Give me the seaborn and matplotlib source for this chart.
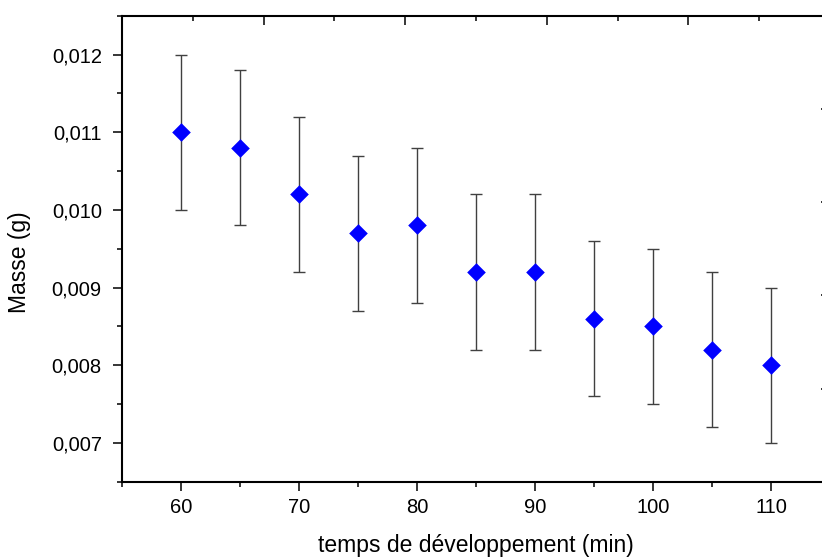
import matplotlib
matplotlib.use("Agg")
import matplotlib.pyplot as plt
import seaborn as sns
import pandas as pd
from matplotlib.ticker import MultipleLocator, FuncFormatter, NullFormatter

temps = [60, 65, 70, 75, 80, 85, 90, 95, 100, 105, 110]
masse = [0.0110, 0.0108, 0.0102, 0.0097, 0.0098, 0.0092, 0.0092, 0.0086, 0.0085, 0.0082, 0.0080]
erreur = [0.0010, 0.0010, 0.0010, 0.0010, 0.0010, 0.0010, 0.0010, 0.0010, 0.0010, 0.0010, 0.0010]

df = pd.DataFrame({"temps": temps, "masse": masse, "erreur": erreur})

sns.set_style("ticks")
plt.rcParams["font.family"] = ["Liberation Sans", "DejaVu Sans"]
plt.rcParams["axes.labelcolor"] = "black"
plt.rcParams["text.color"] = "black"

fig = plt.figure(figsize=(8.22, 5.59), dpi=100)
pos = [122 / 822, (559 - 481.7) / 559, 708 / 822, 466 / 559]
ax = fig.add_axes(pos)

ax.errorbar(df["temps"], df["masse"], yerr=df["erreur"], fmt="none",
            ecolor="#404040", elinewidth=1.0, capsize=4.5, capthick=1.0, zorder=2)
sns.scatterplot(data=df, x="temps", y="masse", marker="D", s=90, color="#0000ff",
                edgecolor="#0000ff", linewidth=0, ax=ax, zorder=3)

ax.set_xlim(55, 115)
ax.set_ylim(0.0065, 0.0125)
ax.xaxis.set_major_locator(MultipleLocator(10))
ax.xaxis.set_minor_locator(MultipleLocator(5))
ax.yaxis.set_major_locator(MultipleLocator(0.001))
ax.yaxis.set_minor_locator(MultipleLocator(0.0005))
ax.yaxis.set_major_formatter(FuncFormatter(lambda v, p: f"{v:.3f}".replace(".", ",")))
ax.xaxis.set_major_formatter(FuncFormatter(lambda v, p: f"{v:.0f}"))

ax.tick_params(axis="both", which="major", direction="out", length=6.5, width=1.1,
               labelsize=14.5, colors="black")
ax.tick_params(axis="both", which="minor", direction="out", length=3.6, width=1.1,
               colors="black")
ax.tick_params(axis="x", which="major", pad=5.5)
ax.tick_params(axis="y", which="major", pad=8)
ax.tick_params(top=False, right=False, which="both")

for sp in ax.spines.values():
    sp.set_visible(True)
    sp.set_linewidth(1.5)
    sp.set_color("black")

ax.set_xlabel("temps de développement (min)", fontsize=16.5, labelpad=12, color="black")
ax.set_ylabel("Masse (g)", fontsize=16.5, color="black")
ax.yaxis.set_label_coords(-0.128, 0.47)

# secondary frame ticks (top and right)
ax2 = fig.add_axes(pos, frameon=False)
ax2.set_xlim(0, 1)
ax2.set_ylim(0, 1)
ax2.patch.set_visible(False)
ax2.xaxis.tick_top()
ax2.yaxis.tick_right()
ax2.xaxis.set_major_locator(MultipleLocator(0.2))
ax2.xaxis.set_minor_locator(MultipleLocator(0.1))
ax2.yaxis.set_major_locator(MultipleLocator(0.2))
ax2.xaxis.set_major_formatter(NullFormatter())
ax2.yaxis.set_major_formatter(NullFormatter())
ax2.tick_params(axis="both", which="major", direction="in", length=6.5, width=1.1,
                colors="black")
ax2.tick_params(axis="both", which="minor", direction="in", length=3.6, width=1.1,
                colors="black")
ax2.tick_params(bottom=False, left=False, which="both")
ax2.set_xticks([0.2, 0.4, 0.6, 0.8])
ax2.set_yticks([0.2, 0.4, 0.6, 0.8])

fig.savefig("out.png", dpi=100)
